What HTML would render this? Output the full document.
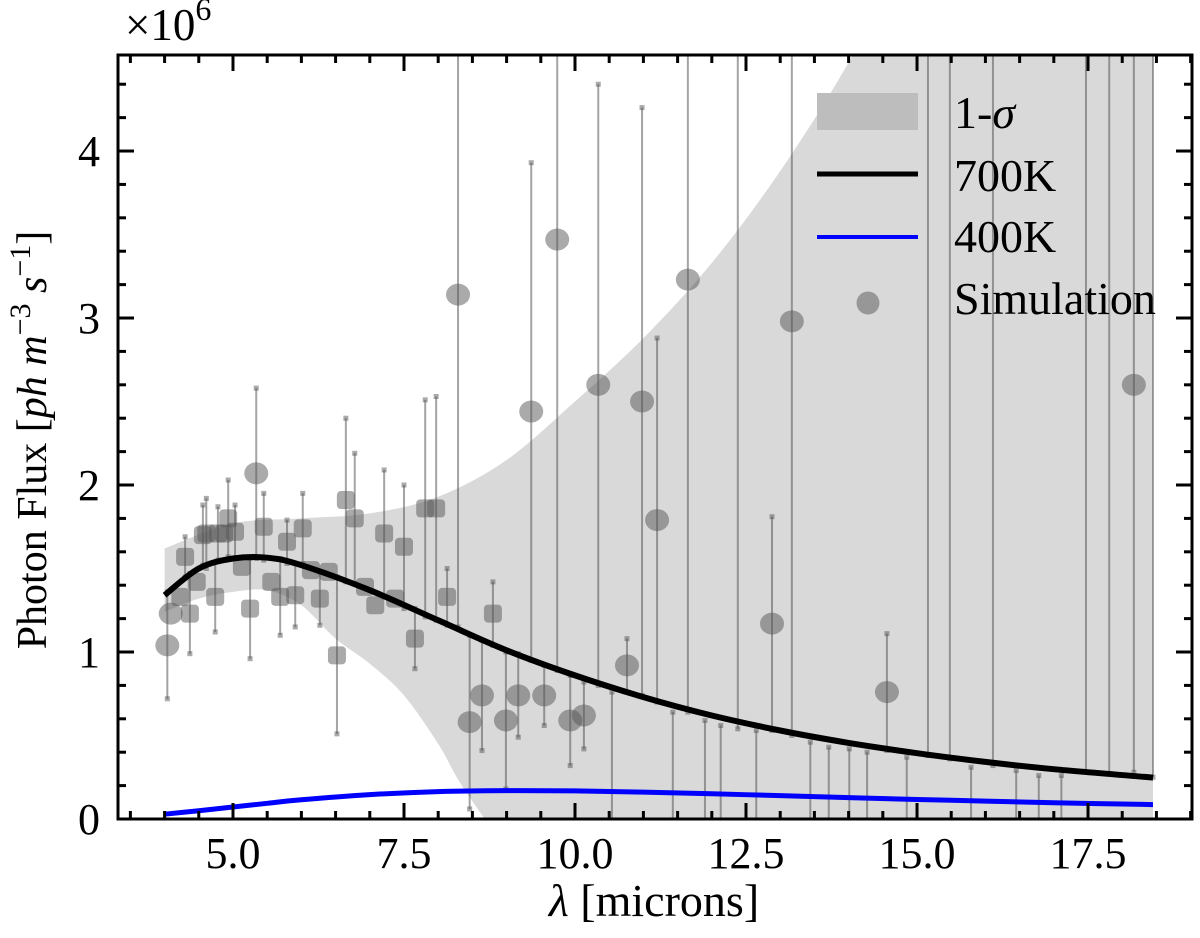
<!DOCTYPE html>
<html><head><meta charset="utf-8"><style>
html,body{margin:0;padding:0;background:#fff;overflow:hidden;width:1200px;height:938px;}
svg{display:block;}
svg text{font-family:"Liberation Serif","Times New Roman",serif;fill:#000;}
</style></head><body>
<svg id="chart" width="1200" height="938" viewBox="0 0 1200 938" xmlns="http://www.w3.org/2000/svg" font-family="Liberation Serif, serif">
<defs><clipPath id="plotclip"><rect x="118" y="55" width="1074" height="764"/></clipPath></defs>
<g id="plot" clip-path="url(#plotclip)"></g>
<g id="axes"></g>
<text x="125" y="40" font-size="45">×10<tspan dy="-20" font-size="32">6</tspan></text>
<text x="654" y="916" font-size="46" text-anchor="middle"><tspan font-style="italic">λ</tspan> [microns]</text>
<text transform="translate(46,440) rotate(-90)" font-size="42" text-anchor="middle">Photon Flux [<tspan font-style="italic">ph m</tspan><tspan dy="-16" font-size="30">−3</tspan><tspan dy="16" font-style="italic"> s</tspan><tspan dy="-16" font-size="30">−1</tspan><tspan dy="16">]</tspan></text>
<g>
<rect x="817" y="93" width="101" height="37" fill="#bdbdbd"/>
<text x="954" y="128" font-size="46">1-<tspan font-style="italic">σ</tspan></text>
<line x1="817" y1="174" x2="918" y2="174" stroke="#000" stroke-width="5"/>
<text x="954" y="191" font-size="46">700K</text>
<line x1="817" y1="237" x2="918" y2="237" stroke="#0000ff" stroke-width="4"/>
<text x="954" y="252" font-size="46">400K</text>
<circle cx="868" cy="303" r="11.5" fill="#555" fill-opacity="0.5"/>
<text x="954" y="314" font-size="46">Simulation</text>
</g>
</svg>
<script>
// ---- data ----
const bandUpperX = [4.0, 5.0, 6.0, 7.0, 8.0, 9, 10, 11, 12, 13, 14, 15, 16, 17, 18.45];
const bandUpper = [1.62, 1.77, 1.80, 1.83, 1.93, 2.15, 2.50, 2.88, 3.33, 3.88, 4.53, 5.3, 6.2, 7.2, 9.0];
const bandLowerX = [4.0, 4.5, 5.0, 5.5, 6.0, 6.5, 7.0, 7.5, 8.0, 8.3, 8.68];
const bandLower = [1.24, 1.32, 1.36, 1.37, 1.28, 1.08, 0.93, 0.74, 0.45, 0.23, 0];
const curveX = [4.0, 4.5, 5.0, 5.5, 6, 7, 8, 9, 10, 11, 12, 13, 14, 15, 16, 17, 18.45];
const flux700 = [1.34, 1.50, 1.56, 1.565, 1.52, 1.37, 1.19, 1.01, 0.86, 0.73, 0.62, 0.53, 0.456, 0.394, 0.342, 0.298, 0.248];
const flux400 = [0.029, 0.050, 0.072, 0.094, 0.115, 0.146, 0.164, 0.170, 0.168, 0.161, 0.151, 0.140, 0.128, 0.117, 0.107, 0.0975, 0.086];
const circX = [4.04, 4.09, 5.34, 8.46, 8.64, 8.99, 9.17, 9.55, 9.93, 10.13, 8.29, 9.74, 9.36, 10.34, 11.65, 10.98, 11.20, 10.76, 12.88, 13.17, 14.56, 18.17,
  12.38, 15.16, 15.48, 16.11, 17.47, 17.81, 18.45,
  10.54, 11.43, 11.90, 12.13, 12.65, 13.44, 13.71, 14.01, 14.27, 14.85, 15.79, 16.45, 16.78, 17.11];
const circY = [1.04, 1.23, 2.07, 0.58, 0.74, 0.59, 0.74, 0.74, 0.59, 0.62, 3.14, 3.47, 2.44, 2.60, 3.23, 2.50, 1.79, 0.92, 1.17, 2.98, 0.76, 2.60,
  5.6, 5.6, 5.6, 5.6, 5.6, 5.6, 5.6,
  -1, -1, -1, -1, -1, -1, -1, -1, -1, -1, -1, -1, -1, -1];
const circErr = [0.32, 0, 0.51, 0.52, 0.33, 0.41, 0.25, 0.18, 0.27, 0.20, 1.99, 2.58, 1.49, 1.80, 2.59, 1.76, 1.09, 0.16, 0.64, 2.48, 0.35, 2.32,
  5.06, 5.22, 5.24, 5.28, 5.32, 5.33, 5.35,
  1.76, 1.64, 1.59, 1.56, 1.53, 1.46, 1.43, 1.42, 1.40, 1.37, 1.31, 1.29, 1.26, 1.26];
const sqX = [4.23, 4.30, 4.37, 4.47, 4.74, 4.56, 4.61, 4.78, 4.87, 4.93, 5.03, 5.13, 5.25, 5.45, 5.56, 5.69, 5.79, 5.91, 6.02, 6.14, 6.27, 6.40, 6.52, 6.65, 6.78, 6.93, 7.08, 7.21, 7.37, 7.50, 7.66, 7.81, 7.97, 8.13, 8.80];
const sqY = [1.33, 1.57, 1.23, 1.42, 1.33, 1.70, 1.71, 1.71, 1.71, 1.80, 1.72, 1.51, 1.26, 1.75, 1.42, 1.33, 1.66, 1.34, 1.74, 1.49, 1.32, 1.48, 0.98, 1.91, 1.80, 1.39, 1.28, 1.71, 1.32, 1.63, 1.08, 1.86, 1.86, 1.33, 1.23];
const sqErr = [0, 0.12, 0.24, 0, 0.21, 0.18, 0.21, 0.16, 0, 0.23, 0.16, 0, 0.30, 0.20, 0, 0.23, 0.13, 0.19, 0.21, 0, 0.16, 0, 0.47, 0.49, 0.39, 0, 0, 0.38, 0, 0.37, 0.18, 0.65, 0.67, 0.17, 0.19];
const xTicks = [5.0, 7.5, 10.0, 12.5, 15.0, 17.5];
const xTickLabels = ["5.0", "7.5", "10.0", "12.5", "15.0", "17.5"];
const yTicks = [0, 1, 2, 3, 4];
const yTickLabels = ["0", "1", "2", "3", "4"];

// ---- scales ----
const L = 118, R = 1192, T = 55, B = 819;
const X0 = 3.319, X1 = 19.02, Y0 = 0, Y1 = 4.575;
function sx(v){ return L + (v - X0) / (X1 - X0) * (R - L); }
function sy(v){ return B - (v - Y0) / (Y1 - Y0) * (B - T); }
function inY(v){ return v >= Y0 && v <= Y1; }
function clampY(v){ return Math.max(Y0, Math.min(Y1, v)); }
const NS = "http://www.w3.org/2000/svg";
const plot = document.getElementById('plot');
const axes = document.getElementById('axes');
function mk(tag, attrs, parent){
  const e = document.createElementNS(NS, tag);
  for (const k in attrs) e.setAttribute(k, attrs[k]);
  parent.appendChild(e); return e;
}
function smooth(xs, ys){
  const p = xs.map((x,i)=>[sx(x), sy(ys[i])]);
  let d = "M" + p[0][0].toFixed(1) + "," + p[0][1].toFixed(1);
  for (let i=0;i<p.length-1;i++){
    const p0 = p[i-1]||p[i], p1=p[i], p2=p[i+1], p3=p[i+2]||p2;
    const c1 = [p1[0]+(p2[0]-p0[0])/6, p1[1]+(p2[1]-p0[1])/6];
    const c2 = [p2[0]-(p3[0]-p1[0])/6, p2[1]-(p3[1]-p1[1])/6];
    d += " C"+c1[0].toFixed(1)+","+c1[1].toFixed(1)+" "+c2[0].toFixed(1)+","+c2[1].toFixed(1)+" "+p2[0].toFixed(1)+","+p2[1].toFixed(1);
  }
  return d;
}

// band
{
  const up = smooth(bandUpperX, bandUpper);
  const lastX = bandUpperX[bandUpperX.length - 1];
  const rx = bandLowerX.slice().reverse(), rl = bandLower.slice().reverse();
  const lo = " L" + sx(lastX).toFixed(1) + "," + sy(0).toFixed(1) + " " + smooth(rx, rl).replace(/^M/, "L");
  const band = mk('path', {d: up + lo + " Z", fill: "#d9d9d9", stroke: "none"}, plot);
  
  
}

// error bars + markers
function drawErr(x, y, e, g){
  if (!e) return;
  const cx = sx(x);
  const ln = mk('line', {x1: cx, x2: cx, y1: sy(clampY(y - e)), y2: sy(clampY(y + e)), stroke: "#4a4a4a", "stroke-opacity": "0.5", "stroke-width": 2}, g);
  
  
  [y - e, y + e].forEach(v => {
    if (!inY(v)) return;
    const c = mk('rect', {x: cx - 2.5, y: sy(v) - 2.5, width: 5, height: 5, fill: "#555", "fill-opacity": "0.5"}, g);
    
    
  });
}
const pts = mk('g', {}, plot);


circX.forEach((x, i) => {
  drawErr(x, circY[i], circErr[i], pts);
  if (!inY(circY[i])) return;
  const c = mk('ellipse', {cx: sx(x), cy: sy(circY[i]), rx: 12, ry: 11, fill: "#555", "fill-opacity": "0.5"}, pts);
  
  
});
sqX.forEach((x, i) => {
  drawErr(x, sqY[i], sqErr[i], pts);
  const s = mk('rect', {x: sx(x) - 9, y: sy(sqY[i]) - 9, width: 18, height: 18, rx: 4, fill: "#555", "fill-opacity": "0.5"}, pts);
  
  
});

// curves
const c700 = mk('path', {d: smooth(curveX, flux700), fill: "none", stroke: "#000", "stroke-width": 6}, plot);


const c400 = mk('path', {d: smooth(curveX, flux400), fill: "none", stroke: "#0000ff", "stroke-width": 5}, plot);



// axes frame
const fr = mk('rect', {x: L, y: T, width: R - L, height: B - T, fill: "none", stroke: "#000", "stroke-width": 3}, axes);


for (let v = 3.5; v <= 19.0; v += 0.5) {
  const major = Math.abs(v / 2.5 - Math.round(v / 2.5)) < 1e-6;
  const len = major ? 16 : 8, px = sx(v);
  const t1 = mk('line', {x1: px, x2: px, y1: B, y2: B - len, stroke: "#000", "stroke-width": 3}, axes);
  
  
  const t2 = mk('line', {x1: px, x2: px, y1: T, y2: T + len, stroke: "#000", "stroke-width": 3}, axes);
  
  
}
xTicks.forEach((v, i) => {
  const t = mk('text', {x: sx(v), y: 868, "font-size": 44, "text-anchor": "middle"}, axes);
  t.textContent = xTickLabels[i];
  
  
});
for (let k = 0; k <= 22; k++) {
  const v = k * 0.2, major = k % 5 === 0;
  const len = major ? 16 : 8, py = sy(v);
  if (py < T) break;
  const t1 = mk('line', {x1: L, x2: L + len, y1: py, y2: py, stroke: "#000", "stroke-width": 3}, axes);
  
  
  const t2 = mk('line', {x1: R, x2: R - len, y1: py, y2: py, stroke: "#000", "stroke-width": 3}, axes);
  
  
}
yTicks.forEach((v, i) => {
  const t = mk('text', {x: 100, y: sy(v) + 15, "font-size": 44, "text-anchor": "end"}, axes);
  t.textContent = yTickLabels[i];
  
  
});
</script>
</body></html>
